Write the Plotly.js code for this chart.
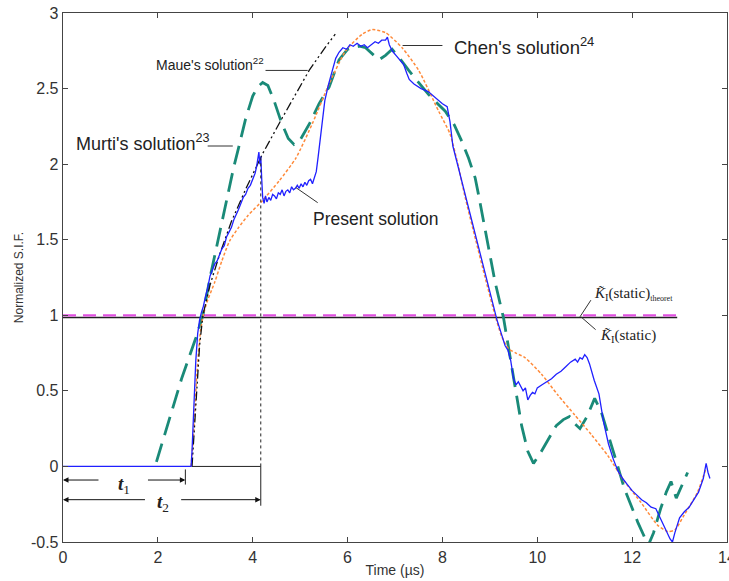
<!DOCTYPE html>
<html>
<head>
<meta charset="utf-8">
<script src="https://cdn.plot.ly/plotly-3.0.1.min.js"></script>
<style>html,body{margin:0;padding:0;background:#fff;}#chart{width:729px;height:581px;}</style>
</head>
<body>
<div id="chart"></div>
<script>
// ---- Data ----
const xTickVals = [0, 2, 4, 6, 8, 10, 12, 14];
const yTickVals = [-0.5, 0, 0.5, 1, 1.5, 2, 2.5, 3];

// Present solution (blue, noisy)
const presentT = [0, 2.62, 2.66, 2.70, 2.72, 2.76, 2.80, 2.84, 2.88, 2.92, 2.96, 3.00, 3.05, 3.10, 3.15, 3.20, 3.25, 3.30, 3.35, 3.40, 3.45, 3.50, 3.55, 3.60, 3.65, 3.70, 3.75, 3.80, 3.85, 3.90, 3.95, 4.00, 4.05, 4.08, 4.11, 4.13, 4.15, 4.17, 4.19, 4.21, 4.24, 4.27, 4.30, 4.34, 4.38, 4.42, 4.46, 4.50, 4.54, 4.58, 4.62, 4.66, 4.70, 4.74, 4.78, 4.82, 4.86, 4.90, 4.94, 4.98, 5.02, 5.06, 5.10, 5.14, 5.18, 5.22, 5.26, 5.30, 5.34, 5.38, 5.45, 5.52, 5.60, 5.68, 5.75, 5.82, 5.90, 5.98, 6.05, 6.12, 6.20, 6.28, 6.35, 6.42, 6.50, 6.58, 6.65, 6.72, 6.80, 6.84, 6.88, 6.94, 7.02, 7.10, 7.18, 7.25, 7.30, 7.40, 7.55, 7.70, 7.85, 8.00, 8.10, 8.16, 8.22, 8.30, 8.38, 8.46, 8.55, 8.65, 8.75, 8.85, 8.95, 9.05, 9.15, 9.25, 9.32, 9.38, 9.44, 9.50, 9.55, 9.60, 9.65, 9.70, 9.75, 9.80, 9.85, 9.90, 9.95, 10.0, 10.1, 10.2, 10.3, 10.4, 10.5, 10.6, 10.7, 10.8, 10.85, 10.9, 10.95, 11.0, 11.05, 11.1, 11.15, 11.2, 11.3, 11.4, 11.5, 11.6, 11.7, 11.8, 11.9, 12.0, 12.1, 12.2, 12.3, 12.4, 12.5, 12.6, 12.7, 12.8, 12.85, 12.9, 13.0, 13.1, 13.2, 13.3, 13.4, 13.5, 13.56, 13.6, 13.64];
const presentK = [0, 0, 0, 0, 0.10, 0.40, 0.70, 0.88, 0.97, 1.02, 1.06, 1.12, 1.18, 1.26, 1.30, 1.34, 1.36, 1.40, 1.44, 1.46, 1.52, 1.55, 1.58, 1.63, 1.66, 1.70, 1.74, 1.78, 1.80, 1.84, 1.86, 1.90, 1.94, 1.98, 2.03, 2.08, 2.00, 2.05, 1.90, 1.78, 1.74, 1.79, 1.75, 1.78, 1.76, 1.80, 1.79, 1.77, 1.81, 1.80, 1.83, 1.79, 1.82, 1.83, 1.81, 1.85, 1.83, 1.84, 1.86, 1.84, 1.87, 1.85, 1.88, 1.86, 1.89, 1.90, 1.87, 1.91, 1.95, 2.05, 2.25, 2.42, 2.53, 2.62, 2.70, 2.74, 2.77, 2.76, 2.79, 2.78, 2.80, 2.78, 2.79, 2.77, 2.79, 2.81, 2.80, 2.82, 2.82, 2.84, 2.79, 2.75, 2.72, 2.69, 2.66, 2.60, 2.56, 2.53, 2.50, 2.48, 2.44, 2.40, 2.38, 2.28, 2.12, 2.02, 1.93, 1.82, 1.70, 1.58, 1.45, 1.33, 1.22, 1.08, 0.97, 0.87, 0.80, 0.77, 0.70, 0.58, 0.54, 0.56, 0.53, 0.50, 0.52, 0.44, 0.47, 0.49, 0.48, 0.52, 0.54, 0.56, 0.58, 0.61, 0.63, 0.66, 0.69, 0.71, 0.69, 0.72, 0.71, 0.74, 0.72, 0.68, 0.62, 0.57, 0.48, 0.29, 0.15, 0.05, -0.03, -0.08, -0.12, -0.16, -0.19, -0.22, -0.24, -0.27, -0.28, -0.35, -0.42, -0.48, -0.50, -0.44, -0.34, -0.30, -0.27, -0.22, -0.17, -0.08, 0.02, -0.04, -0.08];

// Murti's solution (teal, long dashes)
const murtiT = [1.97, 2.2, 2.5, 2.8, 2.95, 3.1, 3.3, 3.44, 3.6, 3.72, 3.85, 4.0, 4.1, 4.21, 4.32, 4.45, 4.6, 4.75, 4.87, 5.0, 5.2, 5.4, 5.61, 5.82, 6.0, 6.1, 6.25, 6.38, 6.52, 6.66, 6.8, 6.94, 7.1, 7.29, 7.5, 7.71, 7.9, 8.06, 8.25, 8.41, 8.55, 8.69, 8.76, 8.93, 9.11, 9.29, 9.46, 9.67, 9.8, 9.92, 10.05, 10.2, 10.4, 10.55, 10.68, 10.8, 10.9, 11.05, 11.21, 11.35, 11.49, 11.65, 11.84, 12.0, 12.12, 12.25, 12.33, 12.45, 12.6, 12.72, 12.82, 12.93, 13.05, 13.17];
const murtiK = [0.03, 0.27, 0.58, 0.85, 1.0, 1.25, 1.55, 1.76, 1.98, 2.13, 2.30, 2.45, 2.51, 2.54, 2.52, 2.42, 2.28, 2.17, 2.13, 2.16, 2.27, 2.40, 2.51, 2.69, 2.76, 2.77, 2.78, 2.77, 2.73, 2.69, 2.72, 2.76, 2.70, 2.62, 2.54, 2.46, 2.40, 2.35, 2.26, 2.15, 2.04, 1.91, 1.80, 1.52, 1.22, 0.98, 0.67, 0.27, 0.10, 0.02, 0.08, 0.16, 0.27, 0.31, 0.33, 0.28, 0.25, 0.33, 0.45, 0.36, 0.22, 0.05, -0.15, -0.28, -0.37, -0.46, -0.53, -0.44, -0.28, -0.17, -0.10, -0.21, -0.12, -0.04];

// Chen's solution (orange, dotted)
const chenT = [2.70, 2.75, 2.82, 2.90, 2.97, 3.05, 3.2, 3.35, 3.51, 3.7, 3.9, 4.21, 4.56, 4.91, 5.26, 5.61, 5.96, 6.31, 6.52, 6.8, 7.15, 7.5, 7.92, 8.16, 8.34, 8.48, 8.7, 8.9, 9.11, 9.25, 9.39, 9.55, 9.74, 10.09, 10.44, 10.79, 11.14, 11.49, 11.84, 12.19, 12.54, 12.75, 12.9, 13.1, 13.38, 13.56];
const chenK = [0, 0.2, 0.6, 0.9, 1.02, 1.1, 1.22, 1.36, 1.49, 1.58, 1.66, 1.76, 1.89, 2.04, 2.27, 2.53, 2.75, 2.86, 2.89, 2.87, 2.77, 2.62, 2.35, 2.20, 1.98, 1.78, 1.50, 1.25, 1.0, 0.86, 0.78, 0.75, 0.72, 0.61, 0.47, 0.34, 0.21, 0.07, -0.10, -0.24, -0.39, -0.43, -0.42, -0.32, -0.17, -0.01];

// Maue's solution (black dash-dot-dot)
const maueT = [2.72, 2.8, 2.88, 2.95, 3.1, 3.3, 3.55, 3.86, 4.21, 4.63, 5.19, 5.5, 5.74];
const maueK = [0, 0.4, 0.8, 1.0, 1.2, 1.4, 1.62, 1.84, 2.07, 2.31, 2.62, 2.76, 2.86];

// Static levels
const staticT = [0, 12.95];
const theoretK = [1.0, 1.0];
const staticK = [0.985, 0.985];

// Marked times
const T1 = 2.58;
const T2 = 4.17;

const SANS = 'Arial, "Liberation Sans", sans-serif';
const SERIF = '"Times New Roman", "Liberation Serif", serif';

const traces = [
  {x: staticT, y: staticK, mode: 'lines', line: {color: '#222222', width: 1.5}, hoverinfo: 'skip'},
  {x: staticT, y: theoretK, mode: 'lines', line: {color: '#e050e0', width: 2.2, dash: '13px,7px'}, hoverinfo: 'skip'},
  {x: murtiT, y: murtiK, mode: 'lines', line: {color: '#1a8a78', width: 2.8, dash: '19px,9px'}},
  {x: chenT, y: chenK, mode: 'lines', line: {color: '#ff8a3a', width: 1.5, dash: '3px,2px', shape: 'spline', smoothing: 0.6}},
  {x: maueT, y: maueK, mode: 'lines', line: {color: '#111111', width: 1.3, dash: '9px,3px,2px,3px,2px,3px'}},
  {x: presentT, y: presentK, mode: 'lines', line: {color: '#2020ff', width: 1.3}}
];

function seg(x0, y0, x1, y1, dash) {
  return {type: 'line', xref: 'x', yref: 'y', x0: x0, y0: y0, x1: x1, y1: y1,
          line: {color: '#222', width: 1, dash: dash || 'solid'}};
}
function leader(x0, y0, x1, y1) {
  return {type: 'line', xref: 'x', yref: 'y', x0: x0, y0: y0, x1: x1, y1: y1,
          line: {color: '#333', width: 1}};
}

const shapes = [
  seg(2.72, 0, T2, 0),
  seg(T2, 0, T2, 2.05, '3px,3px'),
  seg(T2, 0, T2, -0.26),
  seg(T1, -0.02, T1, -0.12),
  leader(4.27, 2.62, 5.16, 2.62),
  leader(3.05, 2.12, 3.58, 2.12),
  leader(4.91, 1.845, 5.37, 1.745),
  leader(7.16, 2.785, 8.0, 2.785),
  leader(10.9, 0.99, 11.13, 1.10),
  leader(10.92, 0.99, 11.23, 0.905)
];

function arrow(xHead, yHead, xTail) {
  return {x: xHead, y: yHead, ax: xTail, ay: yHead, xref: 'x', yref: 'y', axref: 'x', ayref: 'y',
          text: '', showarrow: true, arrowhead: 2, arrowsize: 1.1, arrowwidth: 1, arrowcolor: '#111',
          standoff: 0, startstandoff: 0};
}
function label(x, y, text, size, xanchor, family) {
  return {x: x, y: y, xref: 'x', yref: 'y', text: text, showarrow: false, xanchor: xanchor || 'left',
          yanchor: 'middle', font: {family: family || SANS, size: size, color: '#222'}};
}

const annotations = [
  arrow(0, -0.09, 0.78), arrow(T1, -0.09, 1.76),
  arrow(0, -0.22, 1.76), arrow(T2, -0.22, 2.46),
  label(1.28, -0.12, '<b><i>t</i></b><sub>1</sub>', 19, 'center', SERIF),
  label(2.1, -0.24, '<b><i>t</i></b><sub>2</sub>', 19, 'center', SERIF),
  label(4.29, 2.665, "Maue's solution<sup>22</sup>", 14, 'right'),
  label(3.15, 2.14, "Murti's solution<sup>23</sup>", 18, 'right'),
  label(5.22, 1.64, 'Present solution', 17.5, 'left'),
  label(8.2, 2.785, "Chen's solution<sup>24</sup>", 18.5, 'left'),
  label(11.15, 1.14, '<i>K̃</i><sub>I</sub>(static)<sub><span style="font-size:8px">theoret</span></sub>', 15, 'left', SERIF),
  label(11.28, 0.86, '<i>K̃</i><sub>I</sub>(static)', 15, 'left', SERIF)
];

const axisCommon = {
  showline: true, mirror: 'ticks', linecolor: '#444', linewidth: 1.3,
  ticks: 'inside', ticklen: 5, tickwidth: 1.2, tickcolor: '#444',
  showgrid: false, zeroline: false, ticklabeloverflow: 'allow',
  tickfont: {family: SANS, size: 16, color: '#333'}
};

const layout = {
  width: 729, height: 581,
  margin: {l: 63, r: 2, t: 13, b: 39},
  paper_bgcolor: '#fff', plot_bgcolor: '#fff',
  showlegend: false,
  xaxis: Object.assign({}, axisCommon, {range: [0, 14], tickvals: xTickVals,
    ticktext: xTickVals.map(String),
    title: {text: 'Time (µs)', font: {family: SANS, size: 14, color: '#333'}, standoff: 0}}),
  yaxis: Object.assign({}, axisCommon, {range: [-0.5, 3], tickvals: yTickVals,
    ticktext: yTickVals.map(String),
    title: {text: 'Normalized S.I.F.', font: {family: SANS, size: 12, color: '#333'}, standoff: 4}}),
  shapes: shapes,
  annotations: annotations
};

Plotly.newPlot('chart', traces, layout, {displayModeBar: false, staticPlot: true});
</script>
</body>
</html>
